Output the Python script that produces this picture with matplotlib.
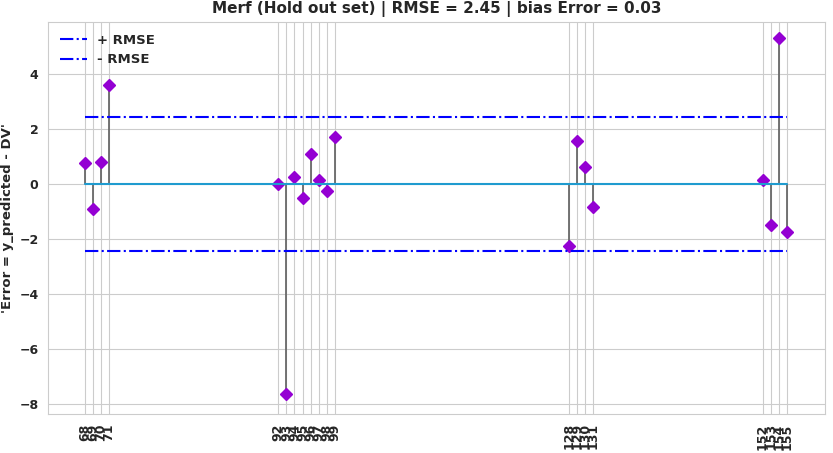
import matplotlib
matplotlib.use("Agg")
import matplotlib.pyplot as plt
import seaborn as sns
import numpy as np

sns.set_style("whitegrid")
plt.rcParams['font.family'] = ['DejaVu Sans']
plt.rcParams['font.weight'] = 'bold'
plt.rcParams['font.size'] = 9

idx = [68, 69, 70, 71, 92, 93, 94, 95, 96, 97, 98, 99, 128, 129, 130, 131, 152, 153, 154, 155]
err = [0.75, -0.9, 0.8, 3.6, 0.0, -7.65, 0.25, -0.5, 1.1, 0.15, -0.25, 1.7,
       -2.25, 1.55, 0.6, -0.85, 0.15, -1.5, 5.3, -1.75]
rmse = 2.45

fig, ax = plt.subplots(figsize=(8.33, 4.53), dpi=100)
m, s, b = ax.stem(idx, err, linefmt='dimgray', markerfmt='D', basefmt='-')
plt.setp(m, color='darkviolet', markersize=6)
plt.setp(s, linewidth=1.3)
plt.setp(b, color='#1f9bcf', linewidth=1.5)
ax.hlines(rmse, idx[0], idx[-1], colors='blue', linestyles='-.', label='+ RMSE')
ax.hlines(-rmse, idx[0], idx[-1], colors='blue', linestyles='-.', label='- RMSE')
ax.set_xticks(idx)
ax.set_xticklabels([str(i) for i in idx], rotation=90, fontsize=9)
ax.tick_params(axis='y', labelsize=9)
ax.set_xlim(63.5, 159.7)
ax.set_ylim(-8.35, 5.9)
ax.set_yticks([-8, -6, -4, -2, 0, 2, 4])
ax.set_ylabel("'Error = y_predicted - DV'", fontweight='bold', fontsize=9.5)
ax.set_title("Merf (Hold out set) | RMSE = 2.45 | bias Error = 0.03", fontweight='bold', fontsize=11)
ax.legend(loc='upper left', prop={'weight': 'bold', 'size': 9.5}, frameon=False)
for sp in ax.spines.values():
    sp.set_color('#cccccc')
plt.subplots_adjust(left=0.058, right=0.99, top=0.952, bottom=0.087)
fig.savefig("out.png")
